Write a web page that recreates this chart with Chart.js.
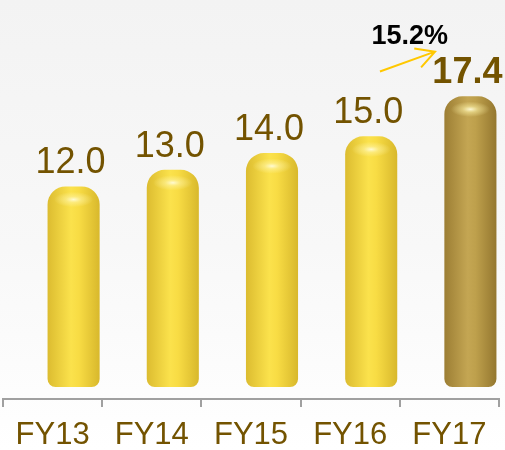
<!DOCTYPE html>
<html>
<head>
<meta charset="utf-8">
<script src="https://cdn.jsdelivr.net/npm/chart.js@4"></script>
<style>
  html, body { margin: 0; padding: 0; }
  body { width: 505px; height: 450px; background: linear-gradient(#f3f3f3 0%, #f8f8f8 55%, #ffffff 100%); }
  #wrap { position: relative; width: 505px; height: 450px; }
</style>
</head>
<body>
<div id="wrap"><canvas id="chart" width="505" height="450"></canvas></div>
<script>
const years = ["FY13", "FY14", "FY15", "FY16", "FY17"];
const values = [12.0, 13.0, 14.0, 15.0, 17.4];
const growthLabel = "15.2%";

const brown = "#735300";
const FONT = "'Liberation Sans', Arial, sans-serif";
const barShift = 21; // bars sit right of the tick label (3D look)

function barGradient(ctx, x0, x1, last) {
  const g = ctx.createLinearGradient(x0, 0, x1, 0);
  if (last) {
    g.addColorStop(0, "#9c7e34");
    g.addColorStop(0.45, "#c4a653");
    g.addColorStop(0.6, "#bea04c");
    g.addColorStop(1, "#94772f");
  } else {
    g.addColorStop(0, "#dcbc30");
    g.addColorStop(0.45, "#fbe24c");
    g.addColorStop(0.6, "#f8dc44");
    g.addColorStop(1, "#d8b82c");
  }
  return g;
}

const shiftPlugin = {
  id: "shift",
  beforeDatasetsDraw(chart) {
    chart.ctx.save();
    chart.ctx.translate(barShift, 0);
  },
  afterDatasetsDraw(chart) {
    const ctx = chart.ctx;
    const meta = chart.getDatasetMeta(0);
    meta.data.forEach((bar, i) => {
      // top highlight
      const hx = bar.x, hy = bar.y + 13;
      const rg = ctx.createRadialGradient(hx, hy, 0, hx, hy, 14);
      rg.addColorStop(0, "rgba(255,252,220,0.95)");
      rg.addColorStop(0.4, "rgba(255,245,170,0.5)");
      rg.addColorStop(1, "rgba(255,245,170,0)");
      ctx.save();
      ctx.translate(hx, hy);
      ctx.scale(1.4, 0.55);
      ctx.translate(-hx, -hy);
      ctx.fillStyle = rg;
      ctx.beginPath();
      ctx.arc(hx, hy, 14, 0, Math.PI * 2);
      ctx.fill();
      ctx.restore();

      // value label
      const last = i === values.length - 1;
      ctx.fillStyle = brown;
      ctx.font = (last ? "bold " : "") + "36px " + FONT;
      ctx.textAlign = "center";
      ctx.textBaseline = "middle";
      ctx.fillText(values[i].toFixed(1), bar.x - 3, bar.y - 23);
    });
    ctx.restore();

    // growth arrow between FY16 and FY17
    const xs = chart.scales.x, ys = chart.scales.y;
    const x0 = xs.getPixelForValue(3.30), y0 = ys.getPixelForValue(18.88);
    const x1 = xs.getPixelForValue(3.855), y1 = ys.getPixelForValue(20.07);
    ctx.save();
    ctx.strokeStyle = "#ffc800";
    ctx.lineWidth = 2;
    ctx.beginPath();
    ctx.moveTo(x0, y0);
    ctx.lineTo(x1, y1);
    const a = Math.atan2(y1 - y0, x1 - x0);
    ctx.moveTo(x1 - 21 * Math.cos(a - 0.5), y1 - 21 * Math.sin(a - 0.5));
    ctx.lineTo(x1, y1);
    ctx.lineTo(x1 - 21 * Math.cos(a + 0.5), y1 - 21 * Math.sin(a + 0.5));
    ctx.stroke();
    ctx.fillStyle = "#000";
    ctx.font = "bold 27px " + FONT;
    ctx.textAlign = "center";
    ctx.textBaseline = "middle";
    ctx.fillText(growthLabel, xs.getPixelForValue(3.6), ys.getPixelForValue(20.97));
    ctx.restore();
  }
};

new Chart(document.getElementById("chart"), {
  type: "bar",
  data: {
    labels: years,
    datasets: [{
      data: values,
      backgroundColor: c => {
        const chart = c.chart;
        const last = c.dataIndex === values.length - 1;
        if (!chart.chartArea) return last ? "#b0933f" : "#f5d93f";
        const xs = chart.scales.x;
        const cx = xs.getPixelForValue(c.dataIndex);
        const half = xs.width / years.length * 0.525 / 2;
        return barGradient(chart.ctx, cx - half, cx + half, last);
      },
      borderWidth: 0,
      borderSkipped: false,
      borderRadius: { topLeft: 18, topRight: 18, bottomLeft: 8, bottomRight: 8 },
      barPercentage: 0.525,
      categoryPercentage: 1
    }]
  },
  options: {
    responsive: false,
    animation: false,
    devicePixelRatio: 1,
    layout: { padding: { left: 3, right: 6, top: 0, bottom: -14 } },
    plugins: { legend: { display: false }, tooltip: { enabled: false } },
    scales: {
      x: {
        grid: { display: true, drawOnChartArea: false, drawTicks: true, tickLength: 8, color: "#a0a0a0", lineWidth: 2, offset: true },
        border: { display: true, color: "#a0a0a0", width: 2 },
        ticks: { color: brown, font: { family: FONT, size: 31, lineHeight: 1 }, padding: 13, maxRotation: 0 }
      },
      y: {
        display: false,
        min: -0.716,
        max: 23.16
      }
    }
  },
  plugins: [shiftPlugin]
});
</script>
</body>
</html>
